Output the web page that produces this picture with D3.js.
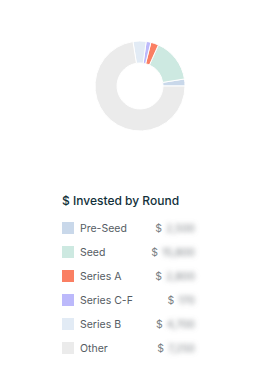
<!DOCTYPE html>
<meta charset="utf-8">
<style>
body { margin: 0; background: #fff; }
text { font-family: Inter, "Noto Sans", sans-serif; }
.title { font-size: 12px; font-weight: 500; fill: #12303a; }
.label { font-size: 10.5px; fill: #555c63; }
.amount { font-size: 10.5px; fill: #7a7f84; }
</style>
<body>
<script src="https://d3js.org/d3.v7.min.js"></script>
<script>

// data
var rounds = ["Pre-Seed", "Seed", "Series A", "Series C-F", "Series B", "Other"];
var invested = [250000, 1580000, 280000, 170000, 470000, 7250000];
var amountLabels = ["2,500", "15,800", "2,800", "170", "4,700", "7,250"];
var colors = ["#c9d8ea", "#cde9e1", "#fa7f63", "#bcb9fb", "#e2ebf5", "#ebebeb"];

var width = 266, height = 381;

var svg = d3.select("body").append("svg")
    .attr("width", width)
    .attr("height", height);

var defs = svg.append("defs");
defs.append("filter").attr("id", "blur")
    .attr("x", "-30%").attr("width", "160%")
    .attr("y", "-50%").attr("height", "200%")
  .append("feGaussianBlur").attr("stdDeviation", 2.8);

// donut
var pie = d3.pie()
    .sort(null)
    .startAngle(Math.PI / 2)
    .endAngle(Math.PI / 2 - 2 * Math.PI);

var arc = d3.arc()
    .innerRadius(23)
    .outerRadius(45);

var g = svg.append("g")
    .attr("transform", "translate(140,86)");

g.selectAll("path")
    .data(pie(invested))
  .enter().append("path")
    .attr("d", arc)
    .attr("fill", function(d, i) { return colors[i]; })
    .attr("stroke", "#fff")
    .attr("stroke-width", 1);

// legend
svg.append("text")
    .attr("class", "title")
    .attr("x", 62)
    .attr("y", 205)
    .text("$ Invested by Round");

var y = d3.scaleBand()
    .domain(rounds)
    .range([216, 360]);

var row = svg.selectAll(".row")
    .data(rounds)
  .enter().append("g")
    .attr("class", "row")
    .attr("transform", function(d) { return "translate(0," + (y(d) + y.bandwidth() / 2) + ")"; });

row.append("rect")
    .attr("x", 62)
    .attr("y", -6)
    .attr("width", 12)
    .attr("height", 12)
    .attr("fill", function(d, i) { return colors[i]; });

row.append("text")
    .attr("class", "label")
    .attr("x", 80)
    .attr("dy", "0.35em")
    .text(function(d) { return d; });

row.each(function(d, i) {
  var r = d3.select(this);
  var amt = r.append("text")
      .attr("class", "amount")
      .attr("x", 195)
      .attr("dy", "0.35em")
      .attr("text-anchor", "end")
      .attr("filter", "url(#blur)")
      .text(amountLabels[i]);
  var w = amt.node().getComputedTextLength();
  r.append("text")
      .attr("class", "amount")
      .attr("x", 195 - w - 4)
      .attr("dy", "0.35em")
      .attr("text-anchor", "end")
      .text("$");
});

</script>
</body>
